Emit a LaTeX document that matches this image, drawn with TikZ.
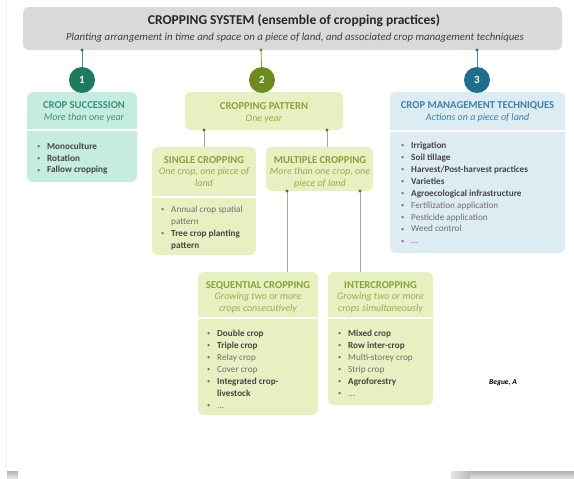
\documentclass[tikz,border=0pt]{standalone}
\usepackage{fontspec}
\setmainfont{Carlito}
\usepackage{array}
\definecolor{topgray}{HTML}{D9D9D9}
\definecolor{cone}{HTML}{1E7A5F}
\definecolor{ctwo}{HTML}{6E8B1F}
\definecolor{cthree}{HTML}{1F6E8C}
\definecolor{mintfill}{HTML}{C5ECDF}
\definecolor{minthd}{HTML}{3C9080}
\definecolor{ygfill}{HTML}{E6F0C0}
\definecolor{yghd}{HTML}{8AA236}
\definecolor{ygsub}{HTML}{98AE4E}
\definecolor{bluefill}{HTML}{DDEBF3}
\definecolor{bluehd}{HTML}{3C82A6}
\definecolor{txtdark}{HTML}{454545}
\definecolor{txtlight}{HTML}{707070}
\definecolor{lineol}{HTML}{A9AD8C}
\definecolor{dotol}{HTML}{5C6E2C}
\newcommand\itmB[1]{{\bfseries\color{txtdark}#1}}
\newcommand\itmR[1]{{\color{txtlight}#1}}
\newcommand\bul{\makebox[4pt][l]{\raisebox{0.8pt}{\fontsize{6.5}{6.5}\selectfont\color{txtlight}\textbullet}}}
\tikzset{
  panel/.style={rounded corners=6pt, inner sep=0pt, outer sep=0pt, anchor=north west},
  hd/.style={font=\fontsize{10.6}{11}\selectfont\bfseries, anchor=base, inner sep=0pt},
  sub/.style={font=\fontsize{10}{12}\selectfont\itshape, align=center, anchor=base, inner sep=0pt},
  subm/.style={font=\fontsize{10}{12}\selectfont\itshape, align=center, anchor=north, inner sep=0pt},
  lst/.style={font=\fontsize{9.2}{12}\selectfont, anchor=base west, inner sep=0pt},
  num/.style={circle, minimum size=26pt, inner sep=0pt, text=white, font=\fontsize{11}{11}\selectfont\bfseries},
  dotmk/.style={circle, inner sep=0pt, minimum size=3.2pt},
  divider/.style={white, line width=1.6pt},
}
\begin{document}
\begin{tikzpicture}[x=1pt,y=-1pt]
\useasboundingbox (0,0) rectangle (574,479);
\fill[white] (0,0) rectangle (574,479);
% frame artefacts
\draw[gray!10] (6.5,0) -- (6.5,471);
\shade[top color=gray!60, bottom color=gray!15] (7,471) rectangle (18,479);
\shade[left color=gray!20, right color=gray!55] (451,471) rectangle (470,479);
\shade[top color=gray!60, bottom color=gray!20] (470,471) rectangle (574,479);

% top box
\node[panel, fill=topgray, minimum width=539pt, minimum height=43pt] (top) at (23,7) {};
\node[anchor=base, inner sep=0pt, font=\fontsize{13.5}{14}\selectfont\bfseries, text=black!85] (title) at (294,24.5) {CROPPING SYSTEM (ensemble of cropping practices)};
\node[anchor=base, inner sep=0pt, font=\fontsize{10.8}{11}\selectfont\itshape, text=black!75] (subtitle) at (295,40) {Planting arrangement in time and space on a piece of land, and associated crop management techniques};

% panel 1
\node[panel, fill=mintfill, minimum width=110pt, minimum height=90pt] (succ) at (27,92) {};
\draw[divider] (succ.west |- 0,130) -- (succ.east |- 0,130);
\node[hd, text=minthd] (succhd) at (84,108.5) {CROP SUCCESSION};
\node[sub, text=minthd] (succsub) at (84,120.5) {More than one year};
\node[lst] (succlst) at (37,149) {\begin{tabular}[t]{@{}l@{\hspace{6pt}}l@{}}
\bul & \itmB{Monoculture}\\ \bul & \itmB{Rotation}\\ \bul & \itmB{Fallow cropping}\end{tabular}};

% panel 2
\node[panel, fill=ygfill, minimum width=158pt, minimum height=38pt] (pat) at (185,92) {};
\node[hd, text=yghd] (pathd) at (264,109) {CROPPING PATTERN};
\node[sub, text=ygsub] (patsub) at (264,121.5) {One year};

\node[panel, fill=ygfill, minimum width=104pt, minimum height=108pt] (single) at (152,147) {};
\draw[divider] (single.west |- 0,197) -- (single.east |- 0,197);
\node[hd, text=yghd] (singlehd) at (204,163.5) {SINGLE CROPPING};
\node[subm, text=ygsub] (singlesub) at (204,167) {One crop, one piece of\\land};
\node[lst] (singlelst) at (161,212) {\begin{tabular}[t]{@{}l@{\hspace{6pt}}l@{}}
\bul & \itmR{Annual crop spatial}\\ & \itmR{pattern}\\ \bul & \itmB{Tree crop planting}\\ & \itmB{pattern}\end{tabular}};

\node[panel, fill=ygfill, minimum width=107pt, minimum height=44pt] (multi) at (266,147) {};
\node[hd, text=yghd] (multihd) at (320,163.5) {MULTIPLE CROPPING};
\node[subm, text=ygsub] (multisub) at (320,167) {More than one crop, one\\piece of land};

\node[panel, fill=ygfill, minimum width=120pt, minimum height=143pt] (seq) at (198,272) {};
\draw[divider] (seq.west |- 0,318) -- (seq.east |- 0,318);
\node[hd, text=yghd] (seqhd) at (258,288.5) {SEQUENTIAL CROPPING};
\node[subm, text=ygsub] (seqsub) at (258,292) {Growing two or more\\crops consecutively};
\node[lst] (seqlst) at (207,336) {\begin{tabular}[t]{@{}l@{\hspace{6pt}}l@{}}
\bul & \itmB{Double crop}\\ \bul & \itmB{Triple crop}\\ \bul & \itmR{Relay crop}\\ \bul & \itmR{Cover crop}\\
\bul & \itmB{Integrated crop-}\\ & \itmB{livestock}\\ \bul & \itmR{...}\end{tabular}};

\node[panel, fill=ygfill, minimum width=105pt, minimum height=133pt] (inter) at (328,272) {};
\draw[divider] (inter.west |- 0,318) -- (inter.east |- 0,318);
\node[hd, text=yghd] (interhd) at (380.5,288.5) {INTERCROPPING};
\node[subm, text=ygsub] (intersub) at (380.5,292) {Growing two or more\\crops simultaneously};
\node[lst] (interlst) at (338,336) {\begin{tabular}[t]{@{}l@{\hspace{6pt}}l@{}}
\bul & \itmB{Mixed crop}\\ \bul & \itmB{Row inter-crop}\\ \bul & \itmR{Multi-storey crop}\\ \bul & \itmR{Strip crop}\\
\bul & \itmB{Agroforestry}\\ \bul & \itmR{...}\end{tabular}};

% panel 3
\node[panel, fill=bluefill, minimum width=175pt, minimum height=161pt] (tech) at (390,92) {};
\draw[divider] (tech.west |- 0,131) -- (tech.east |- 0,131);
\node[hd, text=bluehd] (techhd) at (477.5,108.5) {CROP MANAGEMENT TECHNIQUES};
\node[sub, text=bluehd] (techsub) at (477.5,120.5) {Actions on a piece of land};
\node[lst] (techlst) at (401,148) {\begin{tabular}[t]{@{}l@{\hspace{6pt}}l@{}}
\bul & \itmB{Irrigation}\\ \bul & \itmB{Soil tillage}\\ \bul & \itmB{Harvest/Post-harvest practices}\\ \bul & \itmB{Varieties}\\
\bul & \itmB{Agroecological infrastructure}\\ \bul & \itmR{Fertilization application}\\ \bul & \itmR{Pesticide application}\\
\bul & \itmR{Weed control}\\ \bul & \itmR{...}\end{tabular}};

% connectors from top box
\coordinate (t1) at (82,50);
\coordinate (t2) at (261,50);
\coordinate (t3) at (477,50);
\node[num, fill=cone] (n1) at (82,80) {1};
\node[num, fill=ctwo] (n2) at (262,80) {2};
\node[num, fill=cthree] (n3) at (477,80) {3};
\draw[cone!80, line width=0.8pt] (t1) -- (n1);
\draw[ctwo!80, line width=0.8pt] (t2) -- (n2);
\draw[cthree!80, line width=0.8pt] (t3) -- (n3);
\node[dotmk, fill=cone] (d1) at (t1) {};
\node[dotmk, fill=ctwo] (d2) at (t2) {};
\node[dotmk, fill=cthree] (d3) at (t3) {};

% connectors in cropping pattern
\coordinate (p1) at (204,130);
\coordinate (p2) at (327,130);
\coordinate (m1) at (287,191);
\coordinate (m2) at (360,191);
\draw[lineol, line width=0.8pt] (p1) -- (p1 |- single.north);
\draw[lineol, line width=0.8pt] (p2) -- (p2 |- multi.north);
\draw[lineol, line width=0.8pt] (m1) -- (m1 |- seq.north);
\draw[lineol, line width=0.8pt] (m2) -- (m2 |- inter.north);
\node[dotmk, fill=dotol] (dp1) at (p1) {};
\node[dotmk, fill=dotol] (dp2) at (p2) {};
\node[dotmk, fill=dotol] (dm1) at (m1) {};
\node[dotmk, fill=dotol] (dm2) at (m2) {};

% credit
\node[inner sep=0pt, font=\fontsize{7.5}{8}\selectfont\bfseries\itshape] (credit) at (503,383) {Begue, A};
\end{tikzpicture}
\end{document}
